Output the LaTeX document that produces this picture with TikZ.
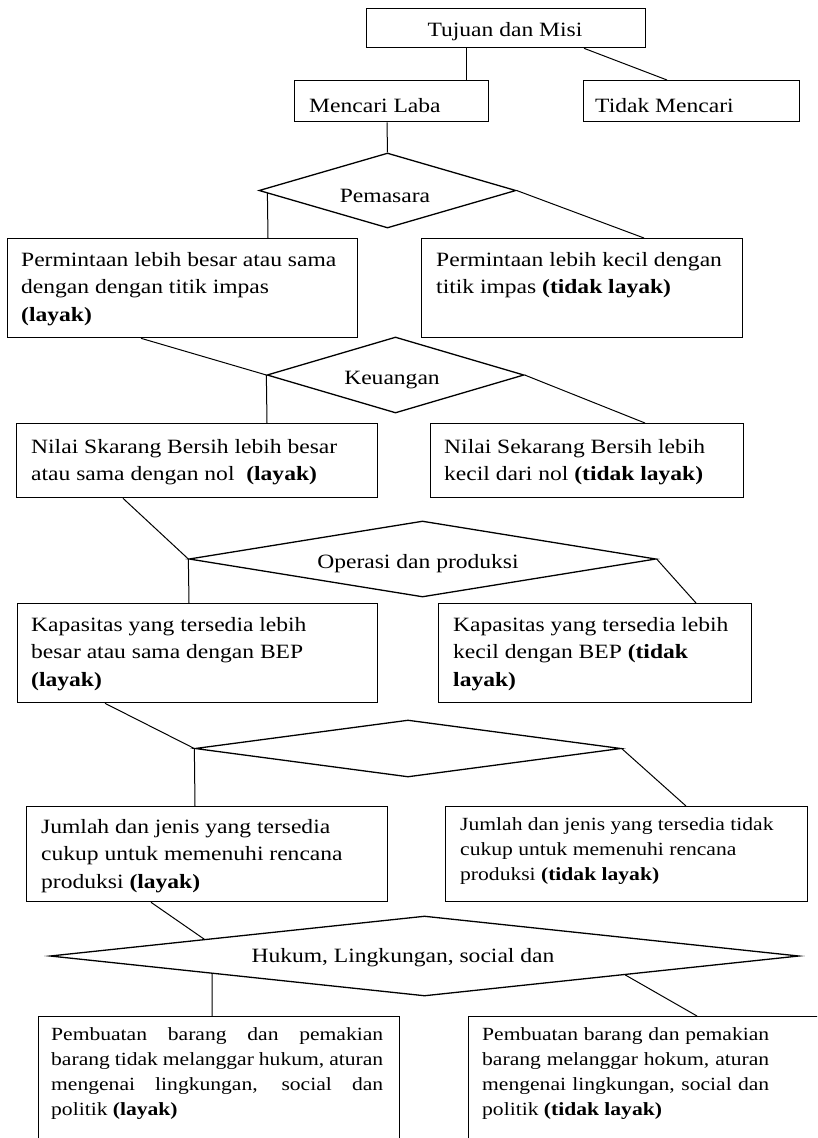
\documentclass[tikz,border=0pt]{standalone}
\usepackage{fontspec}
\setmainfont{Liberation Serif}[FakeStretch=1.16]
\usetikzlibrary{shapes.geometric,calc}

% text sizes used in the chart (1pt = one unit of the drawing)
\newcommand{\mainsize}{\fontsize{20.3}{27.5}\selectfont}
\newcommand{\smallsize}{\fontsize{18.6}{25}\selectfont}
% a line spread out to a given width
\newcommand{\jline}[2]{\makebox[#1][s]{#2}}

\begin{document}
\begin{tikzpicture}[x=1pt,y=-1pt,
  box/.style={draw, line width=1.3pt, rectangle, inner sep=0pt, anchor=north west},
  decision/.style={draw, line width=1.3pt, diamond, inner sep=0pt},
  conn/.style={line width=1pt},
  body/.style={inner sep=0pt, anchor=base west, font=\mainsize},
  smallbody/.style={inner sep=0pt, anchor=base west, font=\smallsize},
  title/.style={inner sep=0pt, anchor=base, font=\mainsize}]

\clip (0,0) rectangle (817,1138);

% ---- boxes ----
\node[box, minimum width=279, minimum height=39] (tj) at (366,8) {};
\node[box, minimum width=194, minimum height=41] (ml) at (294,80) {};
\node[box, minimum width=216, minimum height=41] (tm) at (583,80) {};
\node[box, minimum width=350, minimum height=99] (l1) at (7,238) {};
\node[box, minimum width=321, minimum height=99] (r1) at (421,238) {};
\node[box, minimum width=361, minimum height=74] (l2) at (16,423) {};
\node[box, minimum width=313, minimum height=74] (r2) at (430,423) {};
\node[box, minimum width=360, minimum height=99] (l3) at (17,603) {};
\node[box, minimum width=313, minimum height=99] (r3) at (438,603) {};
\node[box, minimum width=361, minimum height=95] (l4) at (26,806) {};
\node[box, minimum width=362, minimum height=95] (r4) at (445,806) {};
\node[box, minimum width=361, minimum height=200] (l5) at (38,1016) {};
\node[box, minimum width=400, minimum height=200] (r5) at (468,1016) {};

% ---- decisions ----
\node[decision, minimum width=257, minimum height=75] (d1) at (387.5,190.5) {};
\node[decision, minimum width=257, minimum height=76] (d2) at (395.5,375) {};
\node[decision, minimum width=467, minimum height=76] (d3) at (422.5,559) {};
\node[decision, minimum width=426, minimum height=57] (d4) at (408,748.5) {};
\node[decision, minimum width=749, minimum height=80] (d5) at (424.5,956) {};

% ---- texts ----
\node[title] (tjt) at (505,36) {Tujuan dan Misi};
\node[body] (mlt) at (309,112) {Mencari Laba};
\node[body] (tmt) at (595,112) {Tidak Mencari};
\node[title] (d1t) at (385,202) {Pemasara};
\node[title] (d2t) at (392,384) {Keuangan};
\node[title] (d3t) at (418,568) {Operasi dan produksi};
\node[title] (d5t) at (403,962) {Hukum, Lingkungan, social dan};

\node[body] (l1t) at (21,266) {\parbox[t]{330pt}{\raggedright
  Permintaan lebih besar atau sama\\
  dengan dengan titik impas\\
  \textbf{(layak)}}};
\node[body] (r1t) at (436,266) {\parbox[t]{300pt}{\raggedright
  Permintaan lebih kecil dengan\\
  titik impas \textbf{(tidak layak)}}};
\node[body] (l2t) at (31,453) {\parbox[t]{340pt}{\raggedright
  Nilai Skarang Bersih lebih besar\\
  atau sama dengan nol\ \ \textbf{(layak)}}};
\node[body] (r2t) at (444,453) {\parbox[t]{295pt}{\raggedright
  Nilai Sekarang Bersih lebih\\
  kecil dari nol \textbf{(tidak layak)}}};
\node[body] (l3t) at (31,631) {\parbox[t]{340pt}{\raggedright
  Kapasitas yang tersedia lebih\\
  besar atau sama dengan BEP\\
  \textbf{(layak)}}};
\node[body] (r3t) at (453,631) {\parbox[t]{295pt}{\raggedright
  Kapasitas yang tersedia lebih\\
  kecil dengan BEP \textbf{(tidak}\\
  \textbf{layak)}}};
\node[body] (l4t) at (41,833) {\parbox[t]{340pt}{\raggedright
  Jumlah dan jenis yang tersedia\\
  cukup untuk memenuhi rencana\\
  produksi \textbf{(layak)}}};
\node[smallbody] (r4t) at (460,830) {\parbox[t]{340pt}{\raggedright
  Jumlah dan jenis yang tersedia tidak\\
  cukup untuk memenuhi rencana\\
  produksi \textbf{(tidak layak)}}};
\node[smallbody] (l5t) at (51,1040) {\parbox[t]{332pt}{\raggedright
  \jline{332pt}{Pembuatan barang dan pemakian}\\
  \jline{332pt}{barang tidak melanggar hukum, aturan}\\
  \jline{332pt}{mengenai lingkungan, social dan}\\
  politik \textbf{(layak)}}};
\node[smallbody] (r5t) at (482,1040) {\parbox[t]{287pt}{\raggedright
  \jline{287pt}{Pembuatan barang dan pemakian}\\
  \jline{287pt}{barang melanggar hokum, aturan}\\
  \jline{287pt}{mengenai lingkungan, social dan}\\
  politik \textbf{(tidak layak)}}};

% ---- connectors ----
\draw[conn] ($(tj.south west)+(100,0)$) -- ($(ml.north west)+(172,0)$);
\draw[conn] ($(tj.south west)+(218,0)$) -- ($(tm.north west)+(84,0)$);
\draw[conn] ($(ml.south west)+(93,0)$) -- (d1.north);
\draw[conn] ($(d1.west)!0.07!(d1.south)$) -- ($(l1.north west)+(261,0)$);
\draw[conn] (d1.east) -- ($(r1.north west)+(223,0)$);
\draw[conn] ($(l1.south west)+(134,0)$) -- (d2.west);
\draw[conn] (d2.west) -- ($(l2.north west)+(251,0)$);
\draw[conn] (d2.east) -- ($(r2.north west)+(215,0)$);
\draw[conn] ($(l2.south west)+(107,0)$) -- (d3.west);
\draw[conn] (d3.west) -- ($(l3.north west)+(172,0)$);
\draw[conn] (d3.east) -- ($(r3.north west)+(258,0)$);
\draw[conn] ($(l3.south west)+(88,0)$) -- (d4.west);
\draw[conn] (d4.west) -- ($(l4.north west)+(169,0)$);
\draw[conn] (d4.east) -- ($(r4.north west)+(241,0)$);
\draw[conn] ($(l4.south west)+(125,0)$) -- ($(d5.west)!0.413!(d5.north)$);
\draw[conn] ($(d5.west)!0.434!(d5.south)$) -- ($(l5.north west)+(174,0)$);
\draw[conn] ($(d5.east)!0.465!(d5.south)$) -- ($(r5.north west)+(229,0)$);

\end{tikzpicture}
\end{document}
